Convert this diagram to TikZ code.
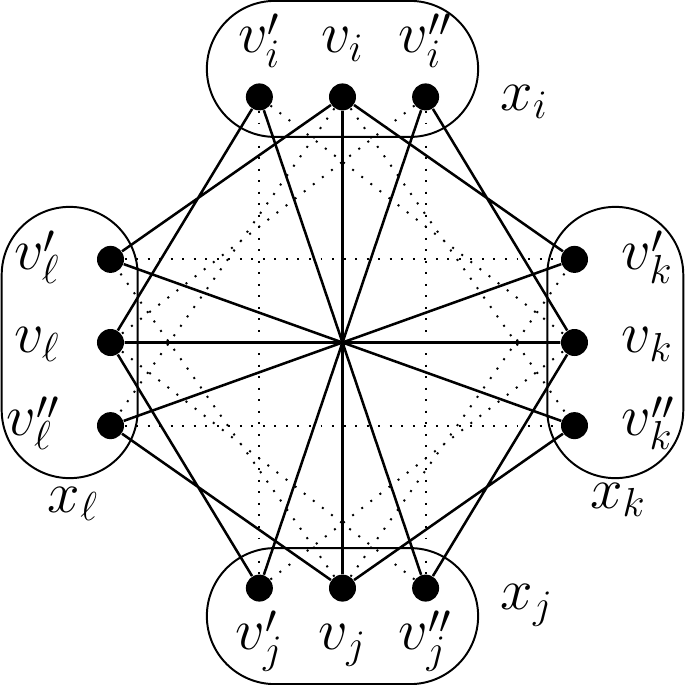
\documentclass[tikz,border=0pt]{standalone}
\usepackage{tikz}
\usetikzlibrary{positioning,shapes.misc}
\newcommand{\pp}{\raisebox{-1.8pt}[0pt][0pt]{$\scriptstyle\prime$}}
\tikzset{
  vert/.style={circle,fill=black,inner sep=0pt,minimum size=3.375mm},
  lab/.style={font=\huge,inner sep=0pt,text height=11pt,text depth=4pt},
  grp/.style={rounded rectangle,draw,line width=0.7pt,
    minimum width=36.25mm,minimum height=17mm},
  ed/.style={line width=0.9pt},
  ned/.style={line width=0.7pt,dash pattern=on 0.7pt off 3.4pt},
}
\begin{document}
\begin{tikzpicture}[x=1mm,y=1mm]
  \useasboundingbox (-42.8125,-42.8125) rectangle (42.8125,42.8125);
  % the four groups
  \node[grp] (gi) at (0,34.2) {};
  \node[grp] (gj) at (0,-34.2) {};
  \node[grp,rotate=90] (gl) at (-34.1,0) {};
  \node[grp,rotate=90] (gk) at (34.1,0) {};
  \node[lab,anchor=base west] (xi) at (19.7,29.06) {$x_i$};
  \node[lab,anchor=base west] (xj) at (19.7,-33.4) {$x_j$};
  \node[lab,anchor=base west] (xl) at (-36.9,-21.2) {$x_\ell$};
  \node[lab,anchor=base west] (xk) at (30.9,-20.7) {$x_k$};
  % vertices
  \node[vert] (vi) at (0,30.7) {};
  \node[vert,left=6.875mm of vi] (vi1) {};
  \node[vert,right=6.875mm of vi] (vi2) {};
  \node[vert] (vj) at (0,-30.7) {};
  \node[vert,left=6.875mm of vj] (vj1) {};
  \node[vert,right=6.875mm of vj] (vj2) {};
  \node[vert] (vl) at (-29,0) {};
  \node[vert,above=6.875mm of vl] (vl1) {};
  \node[vert,below=6.875mm of vl] (vl2) {};
  \node[vert] (vk) at (29,0) {};
  \node[vert,above=6.875mm of vk] (vk1) {};
  \node[vert,below=6.875mm of vk] (vk2) {};
  % labels
  \node[lab,above=2.3mm of vi1] (li1) {$v_i^{\pp}$};
  \node[lab,above=2.3mm of vi] (li) {$v_i$};
  \node[lab,above=2.3mm of vi2] (li2) {$v_i^{\pp\pp}$};
  \node[lab,below=1.95mm of vj1] (lj1) {$v_j^{\pp}$};
  \node[lab,below=1.95mm of vj] (lj) {$v_j$};
  \node[lab,below=1.95mm of vj2] (lj2) {$v_j^{\pp\pp}$};
  \node[lab,left=4.5mm of vl1] (ll1) {$v_\ell^{\pp}$};
  \node[lab,left=4.5mm of vl] (ll) {$v_\ell$};
  \node[lab,left=4.5mm of vl2] (ll2) {$v_\ell^{\pp\pp}$};
  \node[lab,right=4.1mm of vk1] (lk1) {$v_k^{\pp}$};
  \node[lab,right=4.1mm of vk] (lk) {$v_k$};
  \node[lab,right=4.1mm of vk2] (lk2) {$v_k^{\pp\pp}$};
  % solid edges
  \draw[ed] (vi)--(vj) (vl)--(vk) (vi1)--(vj2) (vi2)--(vj1) (vl1)--(vk2) (vl2)--(vk1);
  \draw[ed] (vl)--(vi1) (vl1)--(vi) (vi2)--(vk) (vi)--(vk1);
  \draw[ed] (vl)--(vj1) (vl2)--(vj) (vk)--(vj2) (vk2)--(vj);
  % dotted edges
  \draw[ned] (vi1)--(vj1) (vi2)--(vj2) (vl1)--(vk1) (vl2)--(vk2);
  \draw[ned] (vi1)--(vk) (vi2)--(vl) (vi)--(vl2) (vi)--(vk2);
  \draw[ned] (vj1)--(vk) (vj2)--(vl) (vj)--(vl1) (vj)--(vk1);
\end{tikzpicture}
\end{document}
